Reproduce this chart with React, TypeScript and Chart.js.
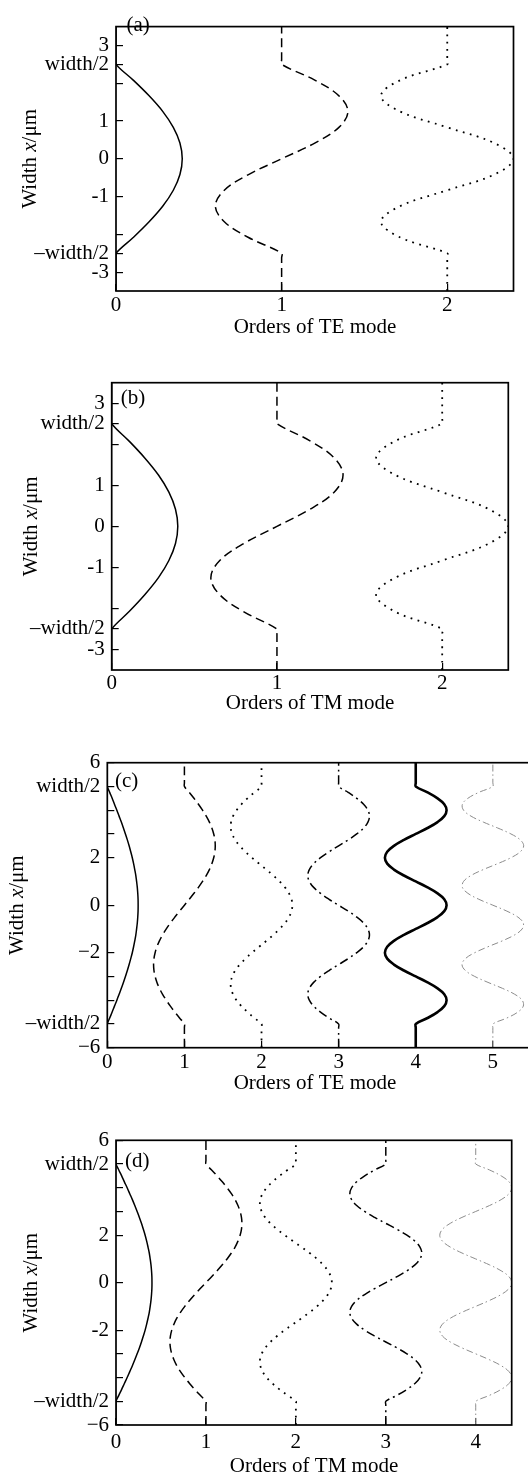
import React, { useEffect, useRef } from 'react';
import { Chart, registerables } from 'chart.js';

Chart.register(...registerables);

const SERIF = '"Liberation Serif", "Times New Roman", Times, serif';
const FS = 21;

// ---------------- panels (a) and (b): width = 5 um ----------------
const Y_AB = [-3.5, -2.62, -2.5, -2.083, -1.667, -1.25, -0.833, -0.417, 0, 0.417, 0.833, 1.25, 1.667, 2.083, 2.5, 2.62, 3.5];

const A_TE0 = [0, 0, 0, 0.104, 0.2, 0.283, 0.346, 0.386, 0.4, 0.386, 0.346, 0.283, 0.2, 0.104, 0, 0, 0];
const A_TE1 = [1, 1, 1, 0.8, 0.654, 0.6, 0.654, 0.8, 1, 1.2, 1.346, 1.4, 1.346, 1.2, 1, 1, 1];
const A_TE2 = [2, 2, 2, 1.717, 1.6, 1.717, 2, 2.283, 2.4, 2.283, 2, 1.717, 1.6, 1.717, 2, 2, 2];

const B_TM0 = [0, 0, 0, 0.104, 0.2, 0.283, 0.346, 0.386, 0.4, 0.386, 0.346, 0.283, 0.2, 0.104, 0, 0, 0];
const B_TM1 = [1, 1, 1, 0.8, 0.654, 0.6, 0.654, 0.8, 1, 1.2, 1.346, 1.4, 1.346, 1.2, 1, 1, 1];
const B_TM2 = [2, 2, 2, 1.717, 1.6, 1.717, 2, 2.283, 2.4, 2.283, 2, 1.717, 1.6, 1.717, 2, 2, 2];

const Y_TICKS_AB = [-3, -2.5, -2, -1, 0, 1, 2, 2.5, 3];
const Y_LABELS_AB = ['-3', '\u2013width/2', '', '-1', '0', '1', '', 'width/2', '3'];
const X_TICKS_AB = [0, 1, 2];
const X_LABELS_AB = ['0', '1', '2'];

// ---------------- panels (c) and (d): width = 10 um ----------------
const Y_CD = [-6, -5.15, -5, -4.75, -4.5, -4.25, -4, -3.75, -3.5, -3.25, -3, -2.75, -2.5, -2.25, -2, -1.75, -1.5, -1.25, -1, -0.75, -0.5, -0.25, 0, 0.25, 0.5, 0.75, 1, 1.25, 1.5, 1.75, 2, 2.25, 2.5, 2.75, 3, 3.25, 3.5, 3.75, 4, 4.25, 4.5, 4.75, 5, 5.15, 6];

const C_TE0 = [0, 0, 0, 0.031, 0.063, 0.093, 0.124, 0.153, 0.182, 0.209, 0.235, 0.26, 0.283, 0.304, 0.324, 0.341, 0.356, 0.37, 0.38, 0.389, 0.395, 0.399, 0.4, 0.399, 0.395, 0.389, 0.38, 0.37, 0.356, 0.341, 0.324, 0.304, 0.283, 0.26, 0.235, 0.209, 0.182, 0.153, 0.124, 0.093, 0.063, 0.031, 0, 0, 0];
const C_TE1 = [1, 1, 1, 0.937, 0.876, 0.818, 0.765, 0.717, 0.676, 0.644, 0.62, 0.605, 0.6, 0.605, 0.62, 0.644, 0.676, 0.717, 0.765, 0.818, 0.876, 0.937, 1, 1.063, 1.124, 1.182, 1.235, 1.283, 1.324, 1.356, 1.38, 1.395, 1.4, 1.395, 1.38, 1.356, 1.324, 1.283, 1.235, 1.182, 1.124, 1.063, 1, 1, 1];
const C_TE2 = [2, 2, 2, 1.907, 1.818, 1.74, 1.676, 1.63, 1.605, 1.601, 1.62, 1.659, 1.717, 1.791, 1.876, 1.969, 2.063, 2.153, 2.235, 2.304, 2.356, 2.389, 2.4, 2.389, 2.356, 2.304, 2.235, 2.153, 2.063, 1.969, 1.876, 1.791, 1.717, 1.659, 1.62, 1.601, 1.605, 1.63, 1.676, 1.74, 1.818, 1.907, 2, 2, 2];
const C_TE3 = [3, 3, 3, 2.876, 2.765, 2.676, 2.62, 2.6, 2.62, 2.676, 2.765, 2.876, 3, 3.124, 3.235, 3.324, 3.38, 3.4, 3.38, 3.324, 3.235, 3.124, 3, 2.876, 2.765, 2.676, 2.62, 2.6, 2.62, 2.676, 2.765, 2.876, 3, 3.124, 3.235, 3.324, 3.38, 3.4, 3.38, 3.324, 3.235, 3.124, 3, 3, 3];
const C_TE4 = [4, 4, 4, 4.153, 4.283, 4.37, 4.4, 4.37, 4.283, 4.153, 4, 3.847, 3.717, 3.63, 3.6, 3.63, 3.717, 3.847, 4, 4.153, 4.283, 4.37, 4.4, 4.37, 4.283, 4.153, 4, 3.847, 3.717, 3.63, 3.6, 3.63, 3.717, 3.847, 4, 4.153, 4.283, 4.37, 4.4, 4.37, 4.283, 4.153, 4, 4, 4];
const C_TE5 = [5, 5, 5, 5.182, 5.324, 5.395, 5.38, 5.283, 5.124, 4.937, 4.765, 4.644, 4.6, 4.644, 4.765, 4.937, 5.124, 5.283, 5.38, 5.395, 5.324, 5.182, 5, 4.818, 4.676, 4.605, 4.62, 4.717, 4.876, 5.063, 5.235, 5.356, 5.4, 5.356, 5.235, 5.063, 4.876, 4.717, 4.62, 4.605, 4.676, 4.818, 5, 5, 5];

const D_TM0 = [0, 0, 0, 0.031, 0.063, 0.093, 0.124, 0.153, 0.182, 0.209, 0.235, 0.26, 0.283, 0.304, 0.324, 0.341, 0.356, 0.37, 0.38, 0.389, 0.395, 0.399, 0.4, 0.399, 0.395, 0.389, 0.38, 0.37, 0.356, 0.341, 0.324, 0.304, 0.283, 0.26, 0.235, 0.209, 0.182, 0.153, 0.124, 0.093, 0.063, 0.031, 0, 0, 0];
const D_TM1 = [1, 1, 1, 0.937, 0.876, 0.818, 0.765, 0.717, 0.676, 0.644, 0.62, 0.605, 0.6, 0.605, 0.62, 0.644, 0.676, 0.717, 0.765, 0.818, 0.876, 0.937, 1, 1.063, 1.124, 1.182, 1.235, 1.283, 1.324, 1.356, 1.38, 1.395, 1.4, 1.395, 1.38, 1.356, 1.324, 1.283, 1.235, 1.182, 1.124, 1.063, 1, 1, 1];
const D_TM2 = [2, 2, 2, 1.907, 1.818, 1.74, 1.676, 1.63, 1.605, 1.601, 1.62, 1.659, 1.717, 1.791, 1.876, 1.969, 2.063, 2.153, 2.235, 2.304, 2.356, 2.389, 2.4, 2.389, 2.356, 2.304, 2.235, 2.153, 2.063, 1.969, 1.876, 1.791, 1.717, 1.659, 1.62, 1.601, 1.605, 1.63, 1.676, 1.74, 1.818, 1.907, 2, 2, 2];
const D_TM3 = [3, 3, 3, 3.124, 3.235, 3.324, 3.38, 3.4, 3.38, 3.324, 3.235, 3.124, 3, 2.876, 2.765, 2.676, 2.62, 2.6, 2.62, 2.676, 2.765, 2.876, 3, 3.124, 3.235, 3.324, 3.38, 3.4, 3.38, 3.324, 3.235, 3.124, 3, 2.876, 2.765, 2.676, 2.62, 2.6, 2.62, 2.676, 2.765, 2.876, 3, 3, 3];
const D_TM4 = [4, 4, 4, 4.153, 4.283, 4.37, 4.4, 4.37, 4.283, 4.153, 4, 3.847, 3.717, 3.63, 3.6, 3.63, 3.717, 3.847, 4, 4.153, 4.283, 4.37, 4.4, 4.37, 4.283, 4.153, 4, 3.847, 3.717, 3.63, 3.6, 3.63, 3.717, 3.847, 4, 4.153, 4.283, 4.37, 4.4, 4.37, 4.283, 4.153, 4, 4, 4];

const Y_TICKS_CD = [-6, -5, -4, -3, -2, 0, 2, 3, 4, 5, 6];
const Y_LABELS_C = ['\u22126', '\u2013width/2', '', '', '\u22122', '0', '2', '', '', 'width/2', '6'];
const Y_LABELS_D = ['\u22126', '\u2013width/2', '', '', '-2', '0', '2', '', '', 'width/2', '6'];
const X_TICKS_C = [0, 1, 2, 3, 4, 5];
const X_LABELS_C = ['0', '1', '2', '3', '4', '5'];
const X_TICKS_D = [0, 1, 2, 3, 4];
const X_LABELS_D = ['0', '1', '2', '3', '4'];

// ---------------- styles ----------------
type LineStyle = { color: string; width: number; dash: number[] };
const SOLID: LineStyle = { color: '#000', width: 1.5, dash: [] };
const DASHED: LineStyle = { color: '#000', width: 1.5, dash: [9, 5] };
const DOTTED: LineStyle = { color: '#000', width: 1.8, dash: [1.8, 5.5] };
const DASHDOT: LineStyle = { color: '#000', width: 1.5, dash: [9, 4, 2, 4] };
const THICK: LineStyle = { color: '#000', width: 2.6, dash: [] };
const GREY_DD: LineStyle = { color: '#8c8c8c', width: 1, dash: [7, 3, 1.5, 3] };

type Area = { left: number; top: number; right: number; bottom: number };
type PanelCfg = {
  top: number; width: number; height: number; area: Area;
  xMax: number; yMin: number; yMax: number;
  ys: number[]; series: { x: number[]; style: LineStyle }[];
  yTicks: number[]; yLabels: string[]; xTicks: number[]; xLabels: string[];
  label: string; labelX: number; labelY: number;
  yTitleX: number; xTitle: string; xTitleX: number; xTitleY: number; xTickPad: number;
};

const PANELS: PanelCfg[] = [
  {
    top: 0, width: 528, height: 340, area: { left: 116, top: 6, right: 513.5, bottom: 291 },
    xMax: 2.4, yMin: -3.5, yMax: 3.5, ys: Y_AB,
    series: [{ x: A_TE0, style: SOLID }, { x: A_TE1, style: DASHED }, { x: A_TE2, style: DOTTED }],
    yTicks: Y_TICKS_AB, yLabels: Y_LABELS_AB, xTicks: X_TICKS_AB, xLabels: X_LABELS_AB,
    label: '(a)', labelX: 126.5, labelY: 25, yTitleX: 30,
    xTitle: 'Orders of TE mode', xTitleX: 315, xTitleY: 327, xTickPad: 9,
  },
  {
    top: 340, width: 528, height: 380, area: { left: 111.7, top: 42.7, right: 508.3, bottom: 330 },
    xMax: 2.4, yMin: -3.5, yMax: 3.5, ys: Y_AB,
    series: [{ x: B_TM0, style: SOLID }, { x: B_TM1, style: DASHED }, { x: B_TM2, style: DOTTED }],
    yTicks: Y_TICKS_AB, yLabels: Y_LABELS_AB, xTicks: X_TICKS_AB, xLabels: X_LABELS_AB,
    label: '(b)', labelX: 120.7, labelY: 58, yTitleX: 31.7,
    xTitle: 'Orders of TM mode', xTitleX: 310, xTitleY: 363, xTickPad: 8,
  },
  {
    top: 720, width: 540, height: 380, area: { left: 107.3, top: 42.7, right: 531.4, bottom: 327.7 },
    xMax: 5.5, yMin: -6, yMax: 6, ys: Y_CD,
    series: [
      { x: C_TE0, style: SOLID }, { x: C_TE1, style: DASHED }, { x: C_TE2, style: DOTTED },
      { x: C_TE3, style: DASHDOT }, { x: C_TE4, style: THICK }, { x: C_TE5, style: GREY_DD },
    ],
    yTicks: Y_TICKS_CD, yLabels: Y_LABELS_C, xTicks: X_TICKS_C, xLabels: X_LABELS_C,
    label: '(c)', labelX: 115, labelY: 61, yTitleX: 17,
    xTitle: 'Orders of TE mode', xTitleX: 315, xTitleY: 363, xTickPad: 9,
  },
  {
    top: 1100, width: 528, height: 378, area: { left: 116, top: 40.3, right: 511.7, bottom: 325 },
    xMax: 4.4, yMin: -6, yMax: 6, ys: Y_CD,
    series: [
      { x: D_TM0, style: SOLID }, { x: D_TM1, style: DASHED }, { x: D_TM2, style: DOTTED },
      { x: D_TM3, style: DASHDOT }, { x: D_TM4, style: GREY_DD },
    ],
    yTicks: Y_TICKS_CD, yLabels: Y_LABELS_D, xTicks: X_TICKS_D, xLabels: X_LABELS_D,
    label: '(d)', labelX: 125, labelY: 61, yTitleX: 31.7,
    xTitle: 'Orders of TM mode', xTitleX: 314, xTitleY: 366, xTickPad: 11.7,
  },
];

function Panel({ cfg }: { cfg: PanelCfg }) {
  const ref = useRef<HTMLCanvasElement | null>(null);

  useEffect(() => {
    const canvas = ref.current;
    if (!canvas) return;
    const a = cfg.area;
    const decor = {
      id: 'decor',
      afterDatasetsDraw(chart: any) {
        const { ctx, chartArea } = chart;
        ctx.save();
        ctx.strokeStyle = '#000';
        ctx.lineWidth = 1.7;
        ctx.setLineDash([]);
        ctx.strokeRect(chartArea.left, chartArea.top, chartArea.right - chartArea.left, chartArea.bottom - chartArea.top);
        ctx.restore();
      },
      afterDraw(chart: any) {
        const { ctx, chartArea } = chart;
        ctx.save();
        ctx.fillStyle = '#000';
        ctx.textBaseline = 'middle';
        ctx.font = `${FS}px ${SERIF}`;
        ctx.textAlign = 'left';
        ctx.fillText(cfg.label, cfg.labelX, cfg.labelY);
        ctx.textAlign = 'center';
        ctx.fillText(cfg.xTitle, cfg.xTitleX, cfg.xTitleY);
        // rotated y title with italic x
        const parts: [string, boolean][] = [['Width ', false], ['x', true], ['/\u03bcm', false]];
        const fontOf = (it: boolean) => `${it ? 'italic ' : ''}${FS}px ${SERIF}`;
        let total = 0;
        const widths = parts.map(([t, it]) => {
          ctx.font = fontOf(it);
          const w = ctx.measureText(t).width;
          total += w;
          return w;
        });
        ctx.translate(cfg.yTitleX, (chartArea.top + chartArea.bottom) / 2);
        ctx.rotate(-Math.PI / 2);
        ctx.textAlign = 'left';
        let x0 = -total / 2;
        parts.forEach(([t, it], i) => {
          ctx.font = fontOf(it);
          ctx.fillText(t, x0, 0);
          x0 += widths[i];
        });
        ctx.restore();
      },
    };

    const tickFont = { family: SERIF, size: FS };
    const chart = new Chart(canvas, {
      type: 'line',
      data: {
        datasets: cfg.series.map((s) => ({
          data: cfg.ys.map((y, i) => ({ x: s.x[i], y })),
          borderColor: s.style.color,
          borderWidth: s.style.width,
          borderDash: s.style.dash,
          borderCapStyle: 'butt',
          pointRadius: 0,
          fill: false,
          tension: 0.37,
        })),
      },
      options: {
        animation: false,
        responsive: false,
        maintainAspectRatio: false,
        devicePixelRatio: 1,
        events: [],
        layout: {
          autoPadding: false,
          padding: { left: 0, top: a.top, right: cfg.width - a.right, bottom: 0 },
        },
        plugins: { legend: { display: false }, tooltip: { enabled: false }, title: { display: false } },
        scales: {
          x: {
            type: 'linear',
            position: 'bottom',
            min: 0,
            max: cfg.xMax,
            afterBuildTicks: (s: any) => { s.ticks = cfg.xTicks.map((v) => ({ value: v })); },
            afterFit: (s: any) => { s.height = cfg.height - a.bottom; },
            ticks: {
              autoSkip: false, maxRotation: 0, minRotation: 0, padding: cfg.xTickPad,
              font: tickFont, color: '#000',
              callback: (_v: any, i: number) => cfg.xLabels[i],
            },
            grid: { display: true, drawOnChartArea: false, drawTicks: true, tickLength: -7, color: '#000', lineWidth: 1.2 },
            border: { display: false },
          },
          y: {
            type: 'linear',
            position: 'left',
            min: cfg.yMin,
            max: cfg.yMax,
            afterBuildTicks: (s: any) => { s.ticks = cfg.yTicks.map((v) => ({ value: v })); },
            afterFit: (s: any) => { s.width = a.left; },
            ticks: {
              autoSkip: false, padding: 14, font: tickFont, color: '#000',
              callback: (_v: any, i: number) => cfg.yLabels[i],
            },
            grid: { display: true, drawOnChartArea: false, drawTicks: true, tickLength: -7, color: '#000', lineWidth: 1.2 },
            border: { display: false },
          },
        },
      } as any,
      plugins: [decor],
    });
    return () => chart.destroy();
  }, [cfg]);

  return (
    <canvas
      ref={ref}
      width={cfg.width}
      height={cfg.height}
      style={{ position: 'absolute', left: 0, top: cfg.top, width: cfg.width, height: cfg.height }}
    />
  );
}

export default function App() {
  return (
    <div style={{ position: 'absolute', left: 0, top: 0, width: 528, height: 1478, overflow: 'hidden', background: '#fff' }}>
      {PANELS.map((p, i) => (
        <Panel key={i} cfg={p} />
      ))}
    </div>
  );
}
